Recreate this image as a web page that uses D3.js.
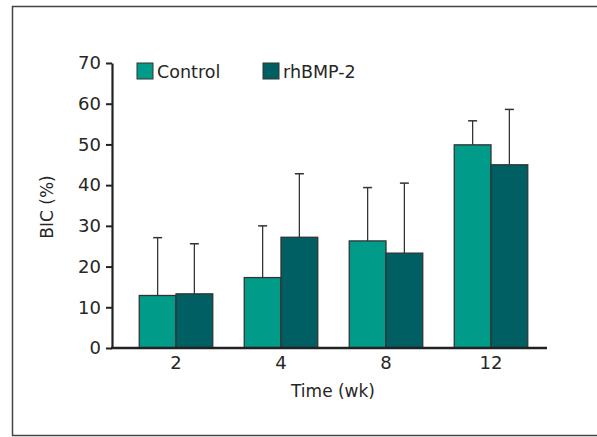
<!DOCTYPE html>
<html>
<head>
<meta charset="utf-8">
<script src="https://cdn.jsdelivr.net/npm/d3@7"></script>
<style>
  body { margin: 0; background: #fff; }
  text { font-family: "DejaVu Sans", sans-serif; fill: #262626; }
</style>
</head>
<body>
<div id="chart"></div>
<script>
const weeks = ["2", "4", "8", "12"]
const groups = ["Control", "rhBMP-2"]
const controlMean = [12.9, 17.3, 26.3, 49.9]
const controlSD = [14.2, 12.7, 13.1, 5.9]
const bmpMean = [13.3, 27.2, 23.3, 45.0]
const bmpSD = [12.3, 15.6, 17.2, 13.6]
const yTicks = [0, 10, 20, 30, 40, 50, 60, 70]
const colors = ["#009B89", "#005F63"]

const width = 597
const height = 437
const font = "DejaVu Sans, sans-serif"

const svg = d3.select("#chart").append("svg")
    .attr("width", width)
    .attr("height", height)

// frame
svg.append("rect")
    .attr("x", 12.5).attr("y", 6.5)
    .attr("width", 590).attr("height", 429)
    .attr("fill", "none")
    .attr("stroke", "#444")
    .attr("stroke-width", 1.5)

const yScale = d3.scaleLinear()
    .domain([0, 70])
    .range([348, 63])

const xScale = d3.scaleBand()
    .domain(weeks)
    .range([123.5, 543.5])
    .paddingInner(0.3)
    .paddingOuter(0.15)

const xInner = d3.scaleBand()
    .domain(groups)
    .range([0, xScale.bandwidth()])

const rows = weeks.map((w, i) => ({
  week: w,
  vals: [
    { g: groups[0], mean: controlMean[i], sd: controlSD[i], c: colors[0] },
    { g: groups[1], mean: bmpMean[i], sd: bmpSD[i], c: colors[1] }
  ]
}))

// bars + error bars
const grp = svg.append("g").selectAll("g")
  .data(rows).enter().append("g")
    .attr("transform", d => "translate(" + xScale(d.week) + ",0)")

grp.selectAll("line.err")
  .data(d => d.vals).enter().append("line")
    .attr("class", "err")
    .attr("x1", d => xInner(d.g) + xInner.bandwidth() / 2)
    .attr("x2", d => xInner(d.g) + xInner.bandwidth() / 2)
    .attr("y1", d => yScale(d.mean))
    .attr("y2", d => yScale(d.mean + d.sd))
    .attr("stroke", "#333")
    .attr("stroke-width", 1.3)

grp.selectAll("line.cap")
  .data(d => d.vals).enter().append("line")
    .attr("class", "cap")
    .attr("x1", d => xInner(d.g) + xInner.bandwidth() / 2 - 4.5)
    .attr("x2", d => xInner(d.g) + xInner.bandwidth() / 2 + 4.5)
    .attr("y1", d => yScale(d.mean + d.sd))
    .attr("y2", d => yScale(d.mean + d.sd))
    .attr("stroke", "#333")
    .attr("stroke-width", 1.5)

grp.selectAll("rect")
  .data(d => d.vals).enter().append("rect")
    .attr("x", d => xInner(d.g))
    .attr("y", d => yScale(d.mean))
    .attr("width", xInner.bandwidth())
    .attr("height", d => yScale(0) - yScale(d.mean))
    .attr("fill", d => d.c)
    .attr("stroke", "#333")
    .attr("stroke-width", 1.3)

// y axis
const yAxis = d3.axisLeft(yScale).tickValues(yTicks).tickSize(6).tickSizeOuter(0).tickPadding(5)
const yg = svg.append("g")
    .attr("transform", "translate(112,0)")
    .call(yAxis)
yg.select(".domain").attr("stroke", "#222").attr("stroke-width", 2.2)
yg.selectAll(".tick line").attr("stroke", "#222").attr("stroke-width", 2)
yg.selectAll(".tick text").attr("font-size", 18).attr("fill", "#262626")
    .attr("font-family", font)

// x axis
const xg = svg.append("g")
    .attr("transform", "translate(0,348)")
    .call(d3.axisBottom(xScale).tickSize(0).tickPadding(8))
xg.select(".domain").remove()
xg.selectAll(".tick text").attr("font-size", 18).attr("fill", "#262626")
    .attr("font-family", font)
svg.append("line")
    .attr("x1", 111).attr("x2", 547)
    .attr("y1", 348).attr("y2", 348)
    .attr("stroke", "#222")
    .attr("stroke-width", 2.5)

// axis titles
svg.append("text")
    .text("Time (wk)")
    .attr("x", 333).attr("y", 397)
    .attr("text-anchor", "middle")
    .attr("font-size", 17)

svg.append("text")
    .text("BIC (%)")
    .attr("text-anchor", "middle")
    .attr("font-size", 17)
    .attr("transform", "translate(53,207)rotate(-90)")

// legend
const legend = svg.append("g").selectAll("g")
  .data(groups).enter().append("g")
    .attr("transform", (d, i) => "translate(" + (137 + i * 126) + ",63)")
legend.append("rect")
    .attr("width", 16).attr("height", 16)
    .attr("fill", (d, i) => colors[i])
    .attr("stroke", "#333")
    .attr("stroke-width", 1)
legend.append("text")
    .text(d => d)
    .attr("x", 20).attr("y", 15)
    .attr("font-size", 17.5)
</script>
</body>
</html>
